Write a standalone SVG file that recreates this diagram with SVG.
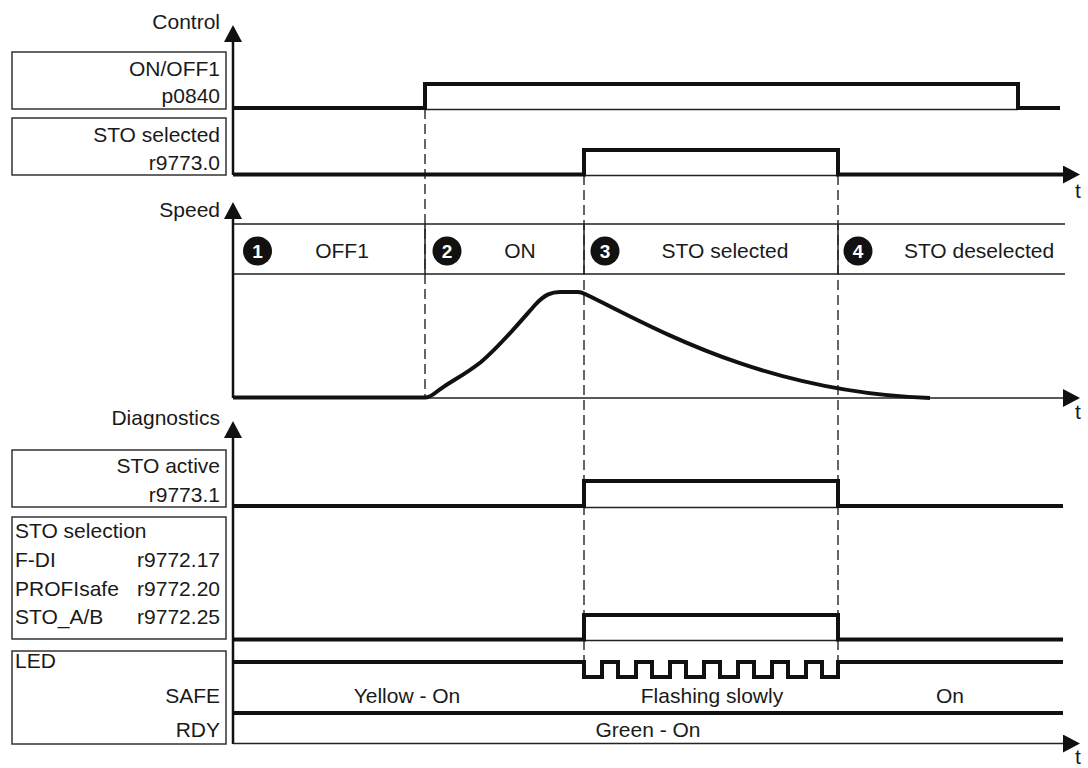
<svg xmlns="http://www.w3.org/2000/svg" width="1088" height="768" viewBox="0 0 1088 768">
<style>
text{font-family:"Liberation Sans",Arial,sans-serif;font-size:21px;fill:#1a1a1a}
.r{text-anchor:end}
.m{text-anchor:middle}
.box{fill:#fff;stroke:#333;stroke-width:1.5}
.sig{fill:none;stroke:#111;stroke-width:4;stroke-linejoin:miter}
.thin{fill:none;stroke:#222;stroke-width:1.5}
.axis{fill:none;stroke:#111;stroke-width:2.5}
.dash{fill:none;stroke:#333;stroke-width:1.5;stroke-dasharray:10 5}
.num{font-weight:bold;font-size:19px;fill:#fff;text-anchor:middle}
</style>
<defs>
<marker id="arr" viewBox="0 0 17 18" refX="0" refY="9" markerWidth="17" markerHeight="18" markerUnits="userSpaceOnUse" orient="auto">
<path d="M0,0 L17,9 L0,18 Z" fill="#111"/>
</marker>
</defs>
<rect width="1088" height="768" fill="#fff"/>

<g id="grid">
<path class="dash" d="M425,109 V398 M584,175 V662 M838,175 V662"/>
<path class="thin" d="M233,224 H1065 M233,274 H1065 M425,224 V274 M584,224 V274 M838,224 V274"/>
</g>

<g id="axes">
<path class="axis" d="M233,175 V42" marker-end="url(#arr)"/>
<path class="axis" d="M233,398 V219" marker-end="url(#arr)"/>
<path class="axis" d="M233,744 V438" marker-end="url(#arr)"/>
<path class="thin" d="M233,398 H1063" marker-end="url(#arr)"/>
<path class="thin" d="M233,743.5 H1063" marker-end="url(#arr)"/>
<text x="1078" y="198" class="m">t</text>
<text x="1078" y="419" class="m">t</text>
<text x="1078" y="764" class="m">t</text>
</g>

<g id="control-label">
<text x="220" y="29" class="r">Control</text>
</g>
<g id="onoff1">
<rect class="box" x="12" y="52" width="214" height="57"/>
<text x="220" y="76" class="r">ON/OFF1</text>
<text x="220" y="103" class="r">p0840</text>
</g>
<g id="sto-selected">
<rect class="box" x="12" y="118" width="214" height="57"/>
<text x="220" y="142" class="r">STO selected</text>
<text x="220" y="170" class="r">r9773.0</text>
</g>
<g id="speed-label">
<text x="220" y="217" class="r">Speed</text>
</g>
<g id="diagnostics-label">
<text x="220" y="425" class="r">Diagnostics</text>
</g>
<g id="sto-active">
<rect class="box" x="12" y="450" width="214" height="57"/>
<text x="220" y="473" class="r">STO active</text>
<text x="220" y="502" class="r">r9773.1</text>
</g>
<g id="sto-selection">
<rect class="box" x="12" y="517" width="214" height="122"/>
<text x="15" y="538">STO selection</text>
<text x="15" y="567">F-DI</text>
<text x="220" y="567" class="r">r9772.17</text>
<text x="15" y="596">PROFIsafe</text>
<text x="220" y="596" class="r">r9772.20</text>
<text x="15" y="624">STO_A/B</text>
<text x="220" y="624" class="r">r9772.25</text>
</g>
<g id="led">
<rect class="box" x="12" y="651" width="214" height="93"/>
<text x="15" y="668">LED</text>
<text x="220" y="703" class="r">SAFE</text>
<text x="220" y="737" class="r">RDY</text>
</g>

<g id="phases">
<circle cx="257.5" cy="251" r="14.5" fill="#111"/><text x="257.5" y="258" class="num">1</text>
<text x="342" y="258" class="m">OFF1</text>
<circle cx="447" cy="251" r="14.5" fill="#111"/><text x="447" y="258" class="num">2</text>
<text x="520" y="258" class="m">ON</text>
<circle cx="605" cy="251" r="14.5" fill="#111"/><text x="605" y="258" class="num">3</text>
<text x="725" y="258" class="m">STO selected</text>
<circle cx="858" cy="251" r="14.5" fill="#111"/><text x="858" y="258" class="num">4</text>
<text x="979" y="258" class="m">STO deselected</text>
</g>

<g id="signals">
<path class="thin" d="M425,109.5 H1018"/>
<path class="sig" d="M233,108 H425 V84 H1018 V108 H1060"/>
<path class="thin" d="M584,175.5 H838"/>
<path class="sig" d="M233,174.5 H584 V150 H838 V174.5 H1063" marker-end="url(#arr)"/>
<path class="sig" d="M233,397.5 H425 C432,397.5 435,392 442,388 C450,382 466,374 481,362 C500,346 520,322 535,305 C545,294 552,292 560,292 L578,292 C581,292 583,293 585,294 C650,325 760,392 930,398"/>
<path class="thin" d="M584,507.5 H838"/>
<path class="sig" d="M233,506 H584 V481 H838 V506 H1063"/>
<path class="thin" d="M584,640.5 H838"/>
<path class="sig" d="M233,639.5 H584 V615 H838 V639.5 H1063"/>
<path class="sig" d="M233,662 H584 V677 H602 V662 H618 V677 H636 V662 H652 V677 H670 V662 H686 V677 H704 V662 H720 V677 H738 V662 H754 V677 H772 V662 H788 V677 H806 V662 H822 V677 H838 V662 H1063"/>
<path class="sig" d="M233,713 H1063"/>
</g>

<g id="led-texts">
<text x="407" y="703" class="m">Yellow - On</text>
<text x="712" y="703" class="m">Flashing slowly</text>
<text x="950" y="703" class="m">On</text>
<text x="648" y="737" class="m">Green - On</text>
</g>
</svg>
